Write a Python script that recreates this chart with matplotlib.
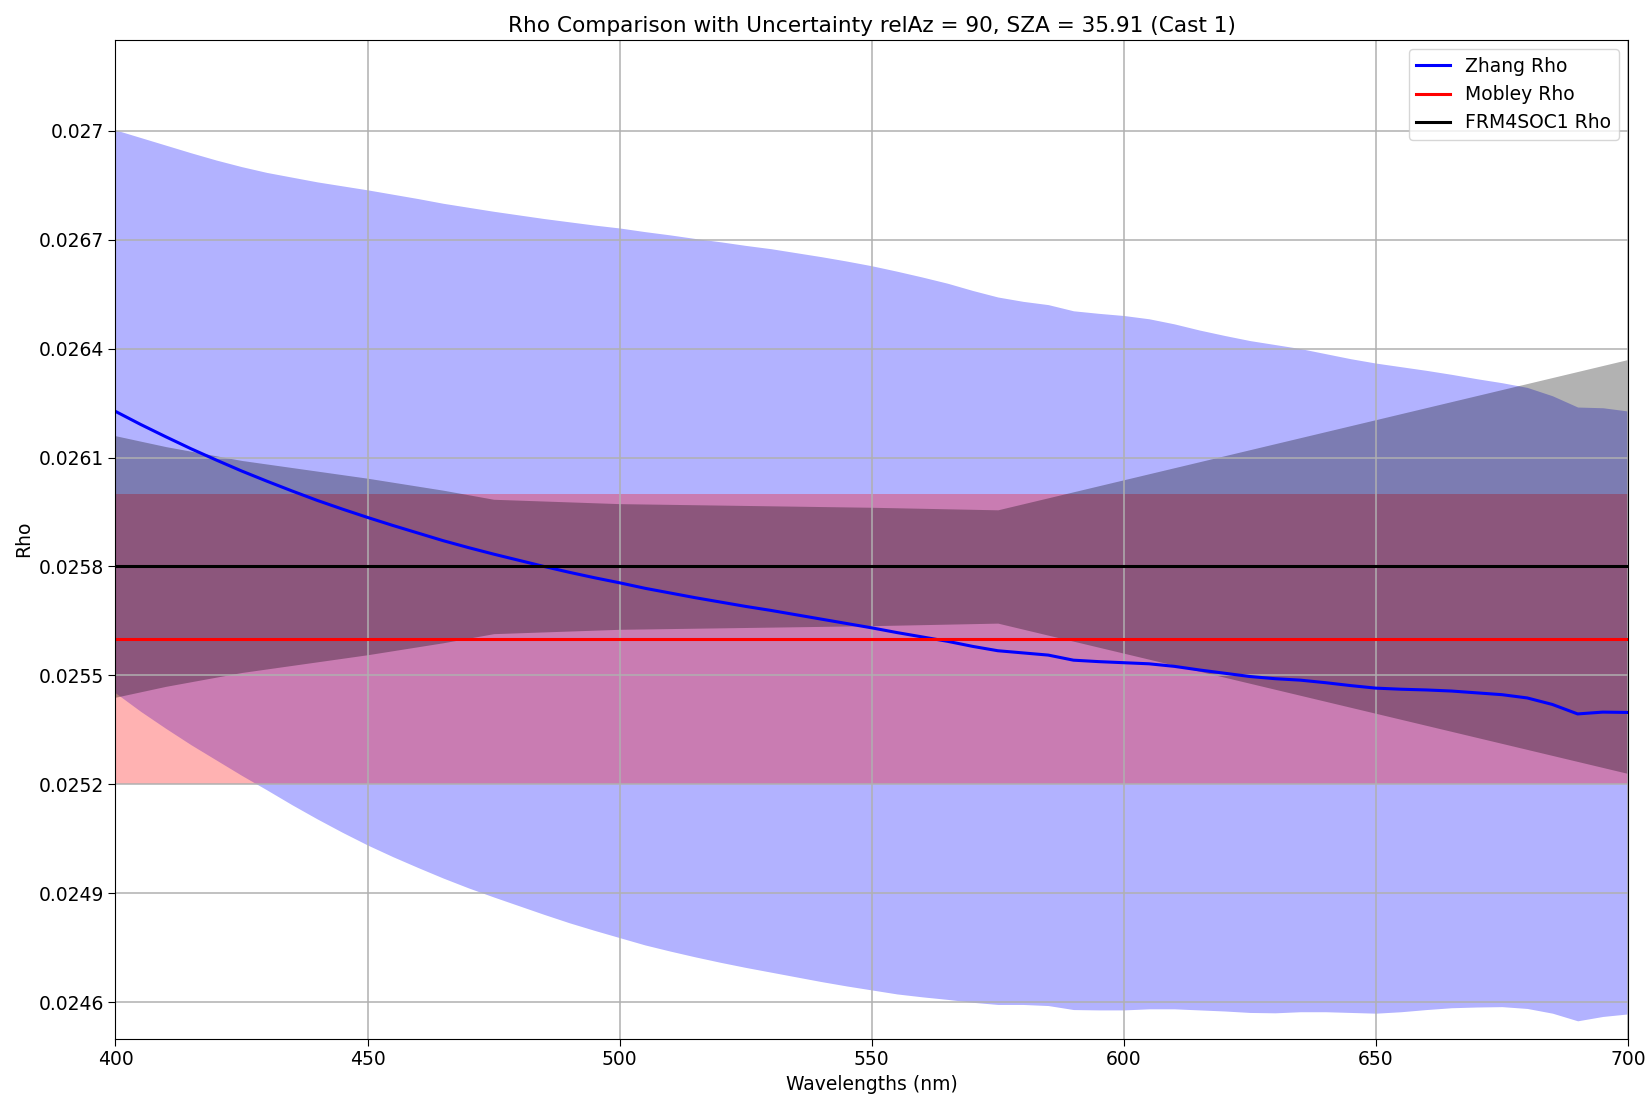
import numpy as np
import matplotlib
matplotlib.use("Agg")
import matplotlib.pyplot as plt

# wavelengths (nm) for the Zhang model
wl = np.arange(400, 701, 5)

zhang_rho = [0.026227, 0.026191, 0.026157, 0.026124, 0.026093, 0.026063, 0.026035,
             0.026008, 0.025982, 0.025958, 0.025935, 0.025913, 0.025892, 0.025871,
             0.025852, 0.025834, 0.025817, 0.025800, 0.025784, 0.025769, 0.025755,
             0.025740, 0.025727, 0.025714, 0.025702, 0.025690, 0.025679, 0.025667,
             0.025655, 0.025643, 0.025631, 0.025618, 0.025606, 0.025594, 0.025580,
             0.025568, 0.025562, 0.025556, 0.025542, 0.025538, 0.025535, 0.025532,
             0.025525, 0.025515, 0.025506, 0.025497, 0.025491, 0.025487, 0.025480,
             0.025472, 0.025465, 0.025462, 0.025460, 0.025457, 0.025452, 0.025447,
             0.025438, 0.025420, 0.025394, 0.025399, 0.025398]

zhang_unc = [0.000775, 0.000790, 0.000803, 0.000815, 0.000826, 0.000838, 0.000850,
             0.000864, 0.000877, 0.000890, 0.000902, 0.000912, 0.000921, 0.000929,
             0.000937, 0.000944, 0.000951, 0.000958, 0.000965, 0.000971, 0.000977,
             0.000982, 0.000986, 0.000989, 0.000992, 0.000994, 0.000996, 0.000997,
             0.000998, 0.000998, 0.000997, 0.000995, 0.000991, 0.000986, 0.000980,
             0.000974, 0.000968, 0.000965, 0.000962, 0.000959, 0.000956, 0.000950,
             0.000943, 0.000936, 0.000930, 0.000925, 0.000920, 0.000913, 0.000906,
             0.000900, 0.000895, 0.000888, 0.000880, 0.000872, 0.000865, 0.000859,
             0.000855, 0.000850, 0.000845, 0.000838, 0.000830]

# Mobley: constant
mobley_wl = [400, 700]
mobley_rho = [0.0256, 0.0256]
mobley_unc = [0.0004, 0.0004]

# FRM4SOC1: constant rho, uncertainty varies
frm_wl = [400, 410, 425, 450, 465, 475, 500, 550, 575, 700]
frm_rho = [0.0258] * len(frm_wl)
frm_unc = [0.00036, 0.00033, 0.000292, 0.000243, 0.00021, 0.000185, 0.000173,
           0.000163, 0.000156, 0.00057]

yticks = [0.0246, 0.0249, 0.0252, 0.0255, 0.0258, 0.0261, 0.0264, 0.0267, 0.027]
ytick_labels = ['0.0246', '0.0249', '0.0252', '0.0255', '0.0258', '0.0261',
                '0.0264', '0.0267', '0.027']

zr = np.array(zhang_rho)
zu = np.array(zhang_unc)
mr = np.array(mobley_rho)
mu = np.array(mobley_unc)
fr = np.array(frm_rho)
fu = np.array(frm_unc)

fig, ax = plt.subplots(figsize=(16.45, 10.95), dpi=100)
fig.subplots_adjust(left=0.0702, right=0.9897, top=0.9636, bottom=0.0515)

ax.plot(wl, zr, color='blue', lw=2.2, label='Zhang Rho')
ax.fill_between(wl, zr - zu, zr + zu, color='blue', alpha=0.3, lw=0)
ax.plot(mobley_wl, mr, color='red', lw=2.2, label='Mobley Rho')
ax.fill_between(mobley_wl, mr - mu, mr + mu, color='red', alpha=0.3, lw=0)
ax.plot(frm_wl, fr, color='black', lw=2.2, label='FRM4SOC1 Rho')
ax.fill_between(frm_wl, fr - fu, fr + fu, color='black', alpha=0.3, lw=0)

ax.set_xlim(400, 700)
ax.set_ylim(0.0245, 0.02725)
ax.set_yticks(yticks)
ax.set_yticklabels(ytick_labels)
ax.tick_params(labelsize=13.5, length=5)
ax.grid(True, lw=1.1)

ax.set_xlabel('Wavelengths (nm)', fontsize=13.5)
ax.set_ylabel('Rho', fontsize=13.5)
ax.set_title('Rho Comparison with Uncertainty relAz = 90, SZA = 35.91 (Cast 1)',
             fontsize=15.6)
ax.legend(loc='upper right', fontsize=13.5, handlelength=1.8)

plt.savefig('out.png')
